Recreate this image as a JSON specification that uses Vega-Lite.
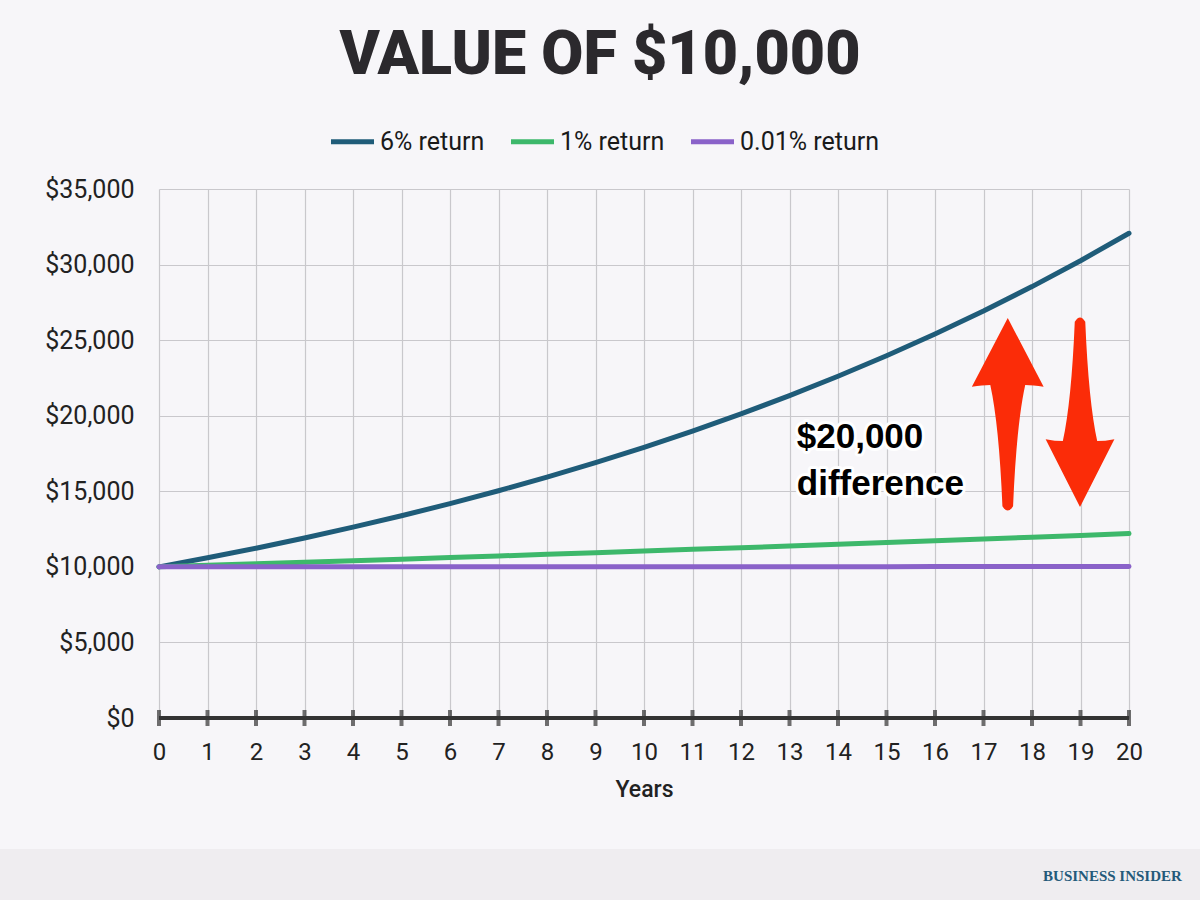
{
  "$schema": "https://vega.github.io/schema/vega-lite/v6.json",
  "width": 970,
  "height": 529,
  "autosize": {"type": "none"},
  "padding": {"left": 159, "top": 189, "right": 71, "bottom": 182},
  "background": "#f7f6f9",
  "title": {"text": "VALUE OF $10,000", "font": "Roboto", "fontSize": 61, "fontWeight": 900, "color": "#2b292d", "anchor": "middle", "frame": "group", "dx": -44, "offset": 30},
  "config": {"view": {"stroke": null}, "font": "Roboto"},
  "data": {"values": [
    {"year": 0, "series": "6% return", "value": 10000},
    {"year": 1, "series": "6% return", "value": 10600},
    {"year": 2, "series": "6% return", "value": 11236},
    {"year": 3, "series": "6% return", "value": 11910},
    {"year": 4, "series": "6% return", "value": 12625},
    {"year": 5, "series": "6% return", "value": 13382},
    {"year": 6, "series": "6% return", "value": 14185},
    {"year": 7, "series": "6% return", "value": 15036},
    {"year": 8, "series": "6% return", "value": 15938},
    {"year": 9, "series": "6% return", "value": 16895},
    {"year": 10, "series": "6% return", "value": 17908},
    {"year": 11, "series": "6% return", "value": 18983},
    {"year": 12, "series": "6% return", "value": 20122},
    {"year": 13, "series": "6% return", "value": 21329},
    {"year": 14, "series": "6% return", "value": 22609},
    {"year": 15, "series": "6% return", "value": 23966},
    {"year": 16, "series": "6% return", "value": 25404},
    {"year": 17, "series": "6% return", "value": 26928},
    {"year": 18, "series": "6% return", "value": 28543},
    {"year": 19, "series": "6% return", "value": 30256},
    {"year": 20, "series": "6% return", "value": 32071},
    {"year": 0, "series": "1% return", "value": 10000},
    {"year": 1, "series": "1% return", "value": 10100},
    {"year": 2, "series": "1% return", "value": 10201},
    {"year": 3, "series": "1% return", "value": 10303},
    {"year": 4, "series": "1% return", "value": 10406},
    {"year": 5, "series": "1% return", "value": 10510},
    {"year": 6, "series": "1% return", "value": 10615},
    {"year": 7, "series": "1% return", "value": 10721},
    {"year": 8, "series": "1% return", "value": 10829},
    {"year": 9, "series": "1% return", "value": 10937},
    {"year": 10, "series": "1% return", "value": 11046},
    {"year": 11, "series": "1% return", "value": 11157},
    {"year": 12, "series": "1% return", "value": 11268},
    {"year": 13, "series": "1% return", "value": 11381},
    {"year": 14, "series": "1% return", "value": 11495},
    {"year": 15, "series": "1% return", "value": 11610},
    {"year": 16, "series": "1% return", "value": 11726},
    {"year": 17, "series": "1% return", "value": 11843},
    {"year": 18, "series": "1% return", "value": 11961},
    {"year": 19, "series": "1% return", "value": 12081},
    {"year": 20, "series": "1% return", "value": 12202},
    {"year": 0, "series": "0.01% return", "value": 10000},
    {"year": 1, "series": "0.01% return", "value": 10001},
    {"year": 2, "series": "0.01% return", "value": 10002},
    {"year": 3, "series": "0.01% return", "value": 10003},
    {"year": 4, "series": "0.01% return", "value": 10004},
    {"year": 5, "series": "0.01% return", "value": 10005},
    {"year": 6, "series": "0.01% return", "value": 10006},
    {"year": 7, "series": "0.01% return", "value": 10007},
    {"year": 8, "series": "0.01% return", "value": 10008},
    {"year": 9, "series": "0.01% return", "value": 10009},
    {"year": 10, "series": "0.01% return", "value": 10010},
    {"year": 11, "series": "0.01% return", "value": 10011},
    {"year": 12, "series": "0.01% return", "value": 10012},
    {"year": 13, "series": "0.01% return", "value": 10013},
    {"year": 14, "series": "0.01% return", "value": 10014},
    {"year": 15, "series": "0.01% return", "value": 10015},
    {"year": 16, "series": "0.01% return", "value": 10016},
    {"year": 17, "series": "0.01% return", "value": 10017},
    {"year": 18, "series": "0.01% return", "value": 10018},
    {"year": 19, "series": "0.01% return", "value": 10019},
    {"year": 20, "series": "0.01% return", "value": 10020}
  ]},
  "layer": [
    {
      "data": {"values": [{}]},
      "mark": {"type": "rect", "color": "#efedf0"},
      "encoding": {
        "x": {"datum": -3.5, "type": "quantitative", "scale": {"domain": [0, 20], "nice": false}},
        "x2": {"datum": 21.7},
        "y": {"datum": -8667, "type": "quantitative", "scale": {"domain": [0, 35000], "nice": false}},
        "y2": {"datum": -12600}
      }
    },
    {
      "data": {"values": [{}]},
      "mark": {"type": "text", "text": "BUSINESS INSIDER", "font": "Liberation Serif", "fontSize": 15, "fontWeight": "bold", "color": "#245a7a", "align": "right", "baseline": "alphabetic"},
      "encoding": {
        "x": {"datum": 21.09, "type": "quantitative"},
        "y": {"datum": -10785, "type": "quantitative"}
      }
    },
    {
      "mark": {"type": "line", "strokeWidth": 5, "strokeCap": "round", "strokeJoin": "round"},
      "encoding": {
        "x": {
          "field": "year", "type": "quantitative",
          "scale": {"domain": [0, 20], "nice": false},
          "axis": {
            "values": [0,1,2,3,4,5,6,7,8,9,10,11,12,13,14,15,16,17,18,19,20],
            "grid": true, "gridColor": "#c9c8cc", "gridWidth": 1.2,
            "domain": false, "ticks": false, "labelFlush": false, "labelOverlap": false,
            "labelFont": "Roboto", "labelFontSize": 24, "labelColor": "#222222", "labelPadding": 22,
            "title": "Years", "titleFont": "Roboto", "titleFontSize": 23, "titleFontWeight": 500, "titleColor": "#222222", "titlePadding": 14
          }
        },
        "y": {
          "field": "value", "type": "quantitative",
          "scale": {"domain": [0, 35000], "nice": false},
          "axis": {
            "values": [0, 5000, 10000, 15000, 20000, 25000, 30000, 35000],
            "format": "$,.0f",
            "grid": true, "gridColor": "#c9c8cc", "gridWidth": 1.2,
            "domain": false, "ticks": false, "labelFlush": false,
            "labelFont": "Roboto", "labelFontSize": 25, "labelColor": "#222222", "labelPadding": 25,
            "title": null
          }
        },
        "color": {
          "field": "series", "type": "nominal",
          "sort": ["6% return", "1% return", "0.01% return"],
          "scale": {"domain": ["6% return", "1% return", "0.01% return"], "range": ["#1f5c79", "#3db86b", "#8a62c9"]},
          "legend": {
            "title": null, "orient": "none", "legendX": 169, "legendY": -72,
            "direction": "horizontal", "symbolType": "stroke", "symbolSize": 1850, "symbolStrokeWidth": 5,
            "labelFont": "Roboto", "labelFontSize": 25, "labelColor": "#1a1a1a", "columnPadding": 15, "labelOffset": 3
          }
        }
      }
    },
    {
      "data": {"values": [{}]},
      "mark": {"type": "rule", "color": "#333333", "strokeWidth": 4},
      "encoding": {
        "x": {"datum": 0, "type": "quantitative"},
        "x2": {"datum": 20},
        "y": {"datum": 0, "type": "quantitative"}
      }
    },
    {
      "transform": [{"filter": "datum.series == '6% return'"}],
      "mark": {"type": "tick", "orient": "vertical", "color": "#333333", "size": 16, "thickness": 4},
      "encoding": {
        "x": {"field": "year", "type": "quantitative"},
        "y": {"datum": 0, "type": "quantitative"}
      }
    },
    {
      "data": {"values": [{}]},
      "mark": {"type": "point", "filled": true, "opacity": 1, "color": "#fb2c08", "size": 37636,
        "shape": "M0,-1 L0.37,-0.29 Q0.26,-0.31 0.18,-0.31 Q0.09,0.1 0.055,0.94 Q0,1.03 -0.055,0.94 Q-0.09,0.1 -0.18,-0.31 Q-0.26,-0.31 -0.37,-0.29 Z"},
      "encoding": {
        "x": {"datum": 17.5, "type": "quantitative"},
        "y": {"datum": 20050, "type": "quantitative"}
      }
    },
    {
      "data": {"values": [{}]},
      "mark": {"type": "point", "filled": true, "opacity": 1, "color": "#fb2c08", "size": 36481,
        "shape": "M0,1 L0.36,0.29 Q0.26,0.31 0.18,0.31 Q0.09,-0.1 0.055,-0.94 Q0,-1.03 -0.055,-0.94 Q-0.09,-0.1 -0.18,0.31 Q-0.26,0.31 -0.36,0.29 Z"},
      "encoding": {
        "x": {"datum": 18.99, "type": "quantitative"},
        "y": {"datum": 20280, "type": "quantitative"}
      }
    },
    {
      "data": {"values": [{}]},
      "mark": {"type": "text", "text": ["$20,000", "difference"], "font": "Liberation Sans", "fontSize": 35, "fontWeight": "bold", "lineHeight": 47, "align": "left", "baseline": "alphabetic", "color": "white", "stroke": "white", "strokeWidth": 6, "strokeJoin": "round"},
      "encoding": {
        "x": {"datum": 13.15, "type": "quantitative"},
        "y": {"datum": 17864, "type": "quantitative"}
      }
    },
    {
      "data": {"values": [{}]},
      "mark": {"type": "text", "text": ["$20,000", "difference"], "font": "Liberation Sans", "fontSize": 35, "fontWeight": "bold", "lineHeight": 47, "align": "left", "baseline": "alphabetic", "color": "#000000"},
      "encoding": {
        "x": {"datum": 13.15, "type": "quantitative"},
        "y": {"datum": 17864, "type": "quantitative"}
      }
    }
  ]
}
